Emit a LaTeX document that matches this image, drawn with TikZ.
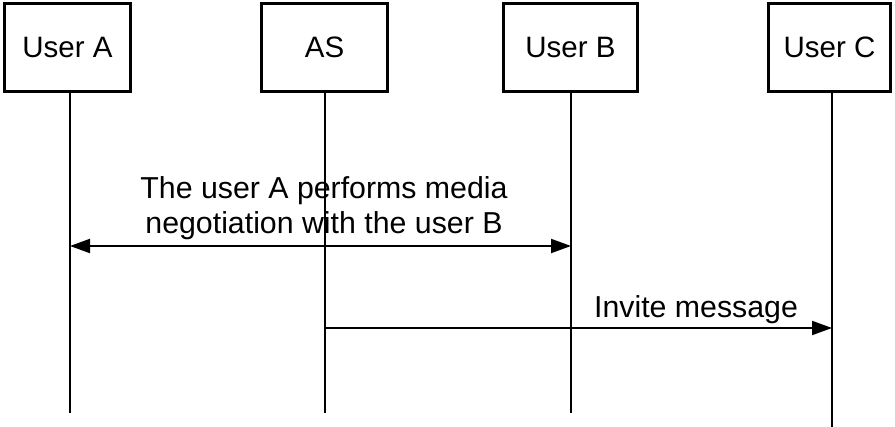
\documentclass[tikz,border=0pt]{standalone}
\usepackage{fontspec}
\setmainfont{Liberation Sans}
\usetikzlibrary{arrows.meta}
\begin{document}
\begin{tikzpicture}[x=1pt, y=-1pt,
  entity/.style={draw, line width=3pt, minimum height=88pt, inner sep=0pt,
                 font=\fontsize{29.5}{35}\selectfont},
  lifeline/.style={line width=2pt},
  msg/.style={line width=2pt, -{Triangle[length=20pt, width=14pt]}},
  bimsg/.style={line width=2pt, {Triangle[length=20pt, width=14pt]}-{Triangle[length=20pt, width=14pt]}},
  lbl/.style={inner sep=0pt, font=\fontsize{30.3}{35}\selectfont, align=center}]
\useasboundingbox (0,0) rectangle (895,427);

% participants
\node[entity, minimum width=126pt] (ua) at (67.5,47.5)  {User A};
\node[entity, minimum width=126pt] (as) at (324.5,47.5) {AS};
\node[entity, minimum width=134pt] (ub) at (570.5,47.5) {User B};
\node[entity, minimum width=122pt] (uc) at (829.5,47.5) {User C};

% lifeline ends
\coordinate (aEnd)  at (70,413);
\coordinate (asEnd) at (324.5,413);
\coordinate (bEnd)  at (571,413);
\coordinate (cEnd)  at (832,427);

\draw[lifeline] (ua.south -| aEnd)  -- (aEnd);
\draw[lifeline] (as.south -| asEnd) -- (asEnd);
\draw[lifeline] (ub.south -| bEnd)  -- (bEnd);
\draw[lifeline] (uc.south -| cEnd)  -- (cEnd);

% message anchor points on the lifelines
\coordinate (a1) at (70,246);
\coordinate (b1) at (571,246);
\coordinate (as2) at (324.5,328);
\coordinate (c2) at (832,328);

% media negotiation between A and B
\draw[bimsg] (a1) -- (b1);
\node[lbl, anchor=south] (negLbl) at (324,239.5)
  {The user A performs media\\negotiation with the user B};

% invite from AS to C
\draw[msg] (as2) -- (c2);
\node[lbl, anchor=base] (invLbl) at (696,318) {Invite message};
\end{tikzpicture}
\end{document}
